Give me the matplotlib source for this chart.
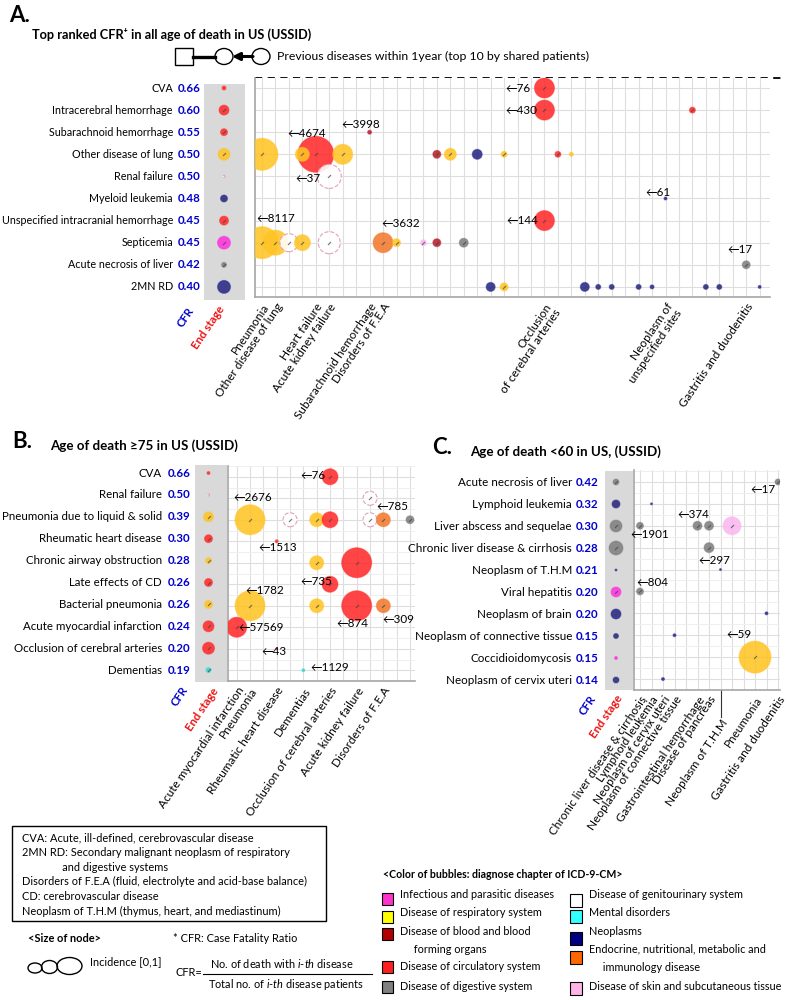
import matplotlib
matplotlib.use('Agg')
import matplotlib.pyplot as plt
import matplotlib.transforms as mtransforms
from matplotlib.colors import to_rgba
from matplotlib.patches import Rectangle, Ellipse
import numpy as np

plt.rcParams['font.family'] = ['Lato', 'DejaVu Sans']
plt.rcParams['mathtext.fontset'] = 'custom'
plt.rcParams['mathtext.rm'] = 'Lato'
plt.rcParams['mathtext.it'] = 'Lato:italic'
plt.rcParams['mathtext.bf'] = 'Lato:bold'

W, H = 789, 1000

# ---------------- panel A: all ages ----------------
rows_a = ["CVA", "Intracerebral hemorrhage", "Subarachnoid hemorrhage", "Other disease of lung",
          "Renal failure", "Myeloid leukemia", "Unspecified intracranial hemorrhage", "Septicemia",
          "Acute necrosis of liver", "2MN RD"]
cfr_a = [0.66, 0.60, 0.55, 0.50, 0.50, 0.48, 0.45, 0.45, 0.42, 0.40]
end_chap_a = ['circ', 'circ', 'circ', 'resp', 'gen', 'neo', 'circ', 'inf', 'dig', 'neo']
end_size_a = [2, 5, 3.5, 6, 1, 3.5, 4.5, 6.5, 2.5, 6.5]
xlab_a = {0: "Pneumonia", 1: "Other disease of lung", 4: "Heart failure", 5: "Acute kidney failure",
          8: "Subarachnoid hemorrhage", 9: "Disorders of F.E.A", 21: "Occlusion\nof cerebral arteries",
          30: "Neoplasm of\nunspecified sites", 36: "Gastritis and duodenitis"}
ncol_a = 38
bub_row_a = [0, 1, 1, 2, 3, 3, 3, 3, 3, 3, 3, 3, 3, 3, 4, 5, 6,
             7, 7, 7, 7, 7, 7, 7, 7, 7, 7, 8, 9, 9, 9, 9, 9, 9, 9, 9, 9, 9]
bub_col_a = [21, 21, 32, 8, 0, 4, 3, 6, 13, 14, 16, 18, 22, 23, 5, 30, 21,
             0, 1, 2, 3, 5, 9, 10, 12, 13, 15, 36, 17, 18, 24, 25, 26, 28, 29, 33, 34, 37]
bub_size_a = [10, 10, 3, 2, 16, 18, 7, 10, 4, 6, 5, 3, 3, 2, 12, 1.5, 10,
              16, 12.5, 9, 8, 11, 10, 4, 3, 4, 4.5, 4, 4.5, 4, 4.5, 2.5, 2.5, 2.5, 2, 2.5, 2.5, 1.5]
bub_chap_a = ['circ', 'circ', 'circ', 'blood', 'resp', 'circ', 'resp', 'resp', 'blood', 'resp', 'neo',
              'resp', 'circ', 'resp', 'gen', 'neo', 'circ',
              'resp', 'resp', 'gen', 'resp', 'gen', 'endo', 'resp', 'skin', 'blood', 'dig', 'dig',
              'neo', 'resp', 'neo', 'neo', 'neo', 'neo', 'neo', 'neo', 'neo', 'neo']
note_txt_a = ["←76", "←430", "←3998", "←4674", "←37", "←61", "←8117", "←3632", "←144", "←17"]
note_col_a = [18.1, 18.1, 5.9, 1.85, 2.5, 28.5, -0.4, 8.9, 18.2, 34.6]
note_row_a = [0, 1, 1.63, 2.08, 4.1, 4.75, 5.9, 6.15, 6.0, 7.33]

# ---------------- panel B: age >= 75 ----------------
rows_b = ["CVA", "Renal failure", "Pneumonia due to liquid & solid", "Rheumatic heart disease",
          "Chronic airway obstruction", "Late effects of CD", "Bacterial pneumonia",
          "Acute myocardial infarction", "Occlusion of cerebral arteries", "Dementias"]
cfr_b = [0.66, 0.50, 0.39, 0.30, 0.28, 0.26, 0.26, 0.24, 0.20, 0.19]
end_chap_b = ['circ', 'gen', 'resp', 'circ', 'resp', 'circ', 'resp', 'circ', 'circ', 'mental']
end_size_b = [1.5, 1, 5, 4, 3, 4, 4, 5.5, 6, 2.5]
xlab_b = {0: "Acute myocardial infarction", 1: "Pneumonia", 3: "Rheumatic heart disease",
          5: "Dementias", 7: "Occlusion of cerebral arteries", 9: "Acute kidney failure",
          11: "Disorders of F.E.A"}
ncol_b = 14
bub_row_b = [0, 1, 2, 2, 2, 2, 2, 2, 2, 3, 4, 4, 5, 6, 6, 6, 6, 7, 8, 9]
bub_col_b = [7, 10, 1, 4, 6, 7, 10, 11, 13, 3, 6, 9, 7, 1, 6, 9, 11, 0, 3, 5]
bub_size_b = [8, 7, 15, 7, 7, 8, 7, 7, 4, 1.5, 7, 15, 8, 15, 7, 15, 7, 10, 1, 1.5]
bub_chap_b = ['circ', 'gen', 'resp', 'gen', 'resp', 'circ', 'gen', 'endo', 'dig', 'circ',
              'resp', 'circ', 'circ', 'resp', 'resp', 'circ', 'endo', 'circ', 'circ', 'mental']
note_txt_b = ["←76", "←2676", "←785", "←1513", "←735", "←1782", "←57569", "←874", "←309", "←43", "←1129"]
note_col_b = [4.75, -0.25, 10.5, 1.62, 4.75, 0.62, 0.12, 7.5, 10.95, 1.88, 5.5]
note_row_b = [-0.06, 0.96, 1.38, 3.29, 4.85, 5.27, 6.99, 6.84, 6.64, 8.13, 8.89]

# ---------------- panel C: age < 60 ----------------
rows_c = ["Acute necrosis of liver", "Lymphoid leukemia", "Liver abscess and sequelae",
          "Chronic liver disease & cirrhosis", "Neoplasm of T.H.M", "Viral hepatitis",
          "Neoplasm of brain", "Neoplasm of connective tissue", "Coccidioidomycosis",
          "Neoplasm of cervix uteri"]
cfr_c = [0.42, 0.32, 0.30, 0.28, 0.21, 0.20, 0.20, 0.15, 0.15, 0.14]
end_chap_c = ['dig', 'neo', 'dig', 'dig', 'neo', 'inf', 'neo', 'neo', 'inf', 'neo']
end_size_c = [3, 4, 6, 7, 1, 5, 5, 2.5, 1.5, 3]
xlab_c = {0: "Chronic liver disease & cirrhosis", 1: "Lymphoid leukemia", 2: "Neoplasm of cervix uteri",
          3: "Neoplasm of connective tissue", 5: "Gastrointestinal hemorrhage", 6: "Disease of pancreas",
          10: "Pneumonia", 12: "Gastritis and duodenitis"}
xlab_c_long = {7: "Neoplasm of T.H.M"}
ncol_c = 13
bub_row_c = [0, 1, 2, 2, 2, 2, 3, 4, 5, 6, 7, 8, 9]
bub_col_c = [12, 1, 0, 5, 6, 8, 6, 7, 0, 11, 3, 10, 2]
bub_size_c = [3, 1, 3.5, 4.5, 4.5, 9, 5, 1, 3.5, 1.5, 1.5, 16, 1.5]
bub_chap_c = ['dig', 'neo', 'dig', 'dig', 'dig', 'skin', 'dig', 'neo', 'dig', 'neo', 'neo', 'resp', 'neo']
note_txt_c = ["←17", "←374", "←1901", "←297", "←804", "←59"]
note_col_c = [9.57, 3.24, -0.81, 5.07, -0.35, 7.54]
note_row_c = [0.33, 1.5, 2.41, 3.58, 4.6, 6.95]

# ---------------- legend ----------------
chap_left = ['inf', 'resp', 'blood', 'circ', 'dig']
chap_left_lab = ["Infectious and parasitic diseases", "Disease of respiratory system",
                 "Disease of blood and blood\n     forming organs", "Disease of circulatory system",
                 "Disease of digestive system"]
chap_right = ['gen', 'mental', 'neo', 'endo', 'skin']
chap_right_lab = ["Disease of genitourinary system", "Mental disorders", "Neoplasms",
                  "Endocrine, nutritional, metabolic and\n     immunology disease",
                  "Disease of skin and subcutaneous tissue"]
abbrev = ["CVA: Acute, ill-defined, cerebrovascular disease",
          "2MN RD: Secondary malignant neoplasm of respiratory",
          "              and digestive systems",
          "Disorders of F.E.A (fluid, electrolyte and acid-base balance)",
          "CD: cerebrovascular disease",
          "Neoplasm of T.H.M (thymus, heart, and mediastinum)"]

bubble_col = {'inf': '#ff33dd', 'resp': '#ffc425', 'blood': '#b8202c', 'circ': '#ff2b2b',
              'dig': '#7f7f7f', 'gen': '#ffffff', 'mental': '#36d6d6', 'neo': '#28288a',
              'endo': '#f27a2e', 'skin': '#f9b8ef'}
legend_col = {'inf': '#ff33cc', 'resp': '#ffff00', 'blood': '#b00000', 'circ': '#ff2020',
              'dig': '#808080', 'gen': '#ffffff', 'mental': '#33ffff', 'neo': '#000080',
              'endo': '#ff6600', 'skin': '#ffb3e6'}

fig = plt.figure(figsize=(W / 100, H / 100), dpi=100)
ov = fig.add_axes([0, 0, 1, 1])
ov.set_xlim(0, W)
ov.set_ylim(H, 0)
ov.axis('off')
renderer = fig.canvas.get_renderer()


def px_axes(x0, y0, x1, y1):
    return fig.add_axes([x0 / W, 1 - y1 / H, (x1 - x0) / W, (y1 - y0) / H])


def area(r):
    return (2 * np.asarray(r, float) * 0.72) ** 2


def faces(chaps):
    return [to_rgba(bubble_col[c], 0.88) for c in chaps]


def edges(chaps):
    return [to_rgba('#e2a0bd', 1) if c == 'gen' else to_rgba(bubble_col[c], 0.45) for c in chaps]


def draw_bubbles(ax, x, y, size, chaps):
    size = np.asarray(size, float)
    ls = ['--' if c == 'gen' else '-' for c in chaps]
    ax.scatter(x, y, s=area(size), c=faces(chaps), edgecolors=edges(chaps),
               linewidths=0.8, linestyles=ls, zorder=3)
    big = size >= 2.5
    ax.scatter(np.asarray(x)[big], np.asarray(y)[big], s=7, marker=(2, 2, -45),
               c='#444444', linewidths=0.6, alpha=0.7, zorder=4)


def draw_panel(rows, cfr, end_chap, end_size, xlab, ncol, b_row, b_col, b_size, b_chap,
               n_txt, n_col, n_row, L):
    r0, rsp = L['row0'], L['row_sp']
    c0, csp = L['col0'], L['col_sp']
    n = len(rows)
    # end stage strip
    sx0, sx1 = L['strip_x']
    sy0, sy1 = L['strip_y']
    st = px_axes(sx0, sy0, sx1, sy1)
    st.set_facecolor('#d9d9d9')
    st.set_xlim(sx0 - L['strip_cx'], sx1 - L['strip_cx'])
    st.set_ylim((sy1 - r0) / rsp, (sy0 - r0) / rsp)
    st.set_xticks([])
    st.set_yticks([])
    for s in st.spines.values():
        s.set_visible(False)
    draw_bubbles(st, np.zeros(n), np.arange(n), end_size, end_chap)

    tr = mtransforms.blended_transform_factory(ov.transData, st.transData)
    labs = []
    for i, (lab, v) in enumerate(zip(rows, cfr)):
        labs.append(st.text(L['label_x'], i, lab, transform=tr, ha='right', va='center',
                            fontsize=L['lab_fs']))
        st.text(L['cfr_x'], i, f'{v:.2f}', transform=tr, ha='left', va='center',
                fontsize=8.3, fontweight='bold', color='#0000cc')
    # shrink labels if the longest one would leave the figure
    left = min(t.get_window_extent(renderer).x0 for t in labs)
    if left < 1:
        widest = max(t.get_window_extent(renderer).width for t in labs)
        fs = L['lab_fs'] * (L['label_x'] - 1) / widest
        for t in labs:
            t.set_fontsize(fs)

    # main bubble grid
    px0, px1 = L['plot_x']
    py0, py1 = L['plot_y']
    ax = px_axes(px0, py0, px1, py1)
    ax.set_xlim((px0 - c0) / csp, (px1 - c0) / csp)
    ax.set_ylim((py1 - r0) / rsp, (py0 - r0) / rsp)
    ax.set_xticks(range(ncol), minor=True)
    ax.set_xticks(list(xlab.keys()))
    ax.set_xticklabels(list(xlab.values()), rotation=56, ha='right', va='top',
                       rotation_mode='anchor', fontsize=8.5, linespacing=1.0)
    ax.set_yticks(range(n))
    ax.set_yticklabels([])
    if L['half_rows']:
        ax.set_yticks(np.arange(-0.5, n, 1), minor=True)
        ax.grid(True, axis='y', which='minor', color='#efefef', lw=0.7)
    ax.tick_params(which='both', length=0, pad=3)
    ax.grid(True, axis='x', which='both', color='#dedede', lw=0.8)
    ax.grid(True, axis='y', which='major', color='#dedede', lw=0.8)
    ax.set_axisbelow(True)
    for k in ('top', 'right'):
        ax.spines[k].set_visible(False)
    for k in ('left', 'bottom'):
        ax.spines[k].set_color('#a6a6a6')
        ax.spines[k].set_linewidth(1.2)
    draw_bubbles(ax, b_col, b_row, b_size, b_chap)
    for t, c, r in zip(n_txt, n_col, n_row):
        ax.text(c, r, t, ha='left', va='center', fontsize=8.4, zorder=5)

    ov.text(*L['cfr_lbl'], "CFR", rotation=56, ha='right', va='top', rotation_mode='anchor',
            fontsize=8.2, fontweight='bold', color='#0000cc')
    ov.text(*L['end_lbl'], "End stage", rotation=56, ha='right', va='top', rotation_mode='anchor',
            fontsize=8.2, fontweight='bold', color='#ee1111')
    return ax


lay_a = dict(row0=88, row_sp=22.1, col0=262, col_sp=13.45, strip_x=(204, 245), strip_cx=224,
             strip_y=(84, 300), plot_x=(255, 770), plot_y=(78, 297), label_x=173, cfr_x=178,
             cfr_lbl=(187, 305), end_lbl=(217, 304), half_rows=False, lab_fs=8.6)
lay_b = dict(row0=473, row_sp=21.9, col0=236.7, col_sp=13.33, strip_x=(195, 227), strip_cx=208.5,
             strip_y=(465, 682), plot_x=(228, 415), plot_y=(466, 681), label_x=162, cfr_x=168,
             cfr_lbl=(181, 684), end_lbl=(211, 686), half_rows=True, lab_fs=9.0)
lay_c = dict(row0=482, row_sp=22, col0=640, col_sp=11.5, strip_x=(605, 633), strip_cx=616,
             strip_y=(471, 690), plot_x=(634, 780), plot_y=(470, 690), label_x=572, cfr_x=576,
             cfr_lbl=(589, 693), end_lbl=(615, 693), half_rows=True, lab_fs=8.4)

ax_a = draw_panel(rows_a, cfr_a, end_chap_a, end_size_a, xlab_a, ncol_a, bub_row_a, bub_col_a,
                  bub_size_a, bub_chap_a, note_txt_a, note_col_a, note_row_a, lay_a)
ax_b = draw_panel(rows_b, cfr_b, end_chap_b, end_size_b, xlab_b, ncol_b, bub_row_b, bub_col_b,
                  bub_size_b, bub_chap_b, note_txt_b, note_col_b, note_row_b, lay_b)
ax_c = draw_panel(rows_c, cfr_c, end_chap_c, end_size_c, xlab_c, ncol_c, bub_row_c, bub_col_c,
                  bub_size_c, bub_chap_c, note_txt_c, note_col_c, note_row_c, lay_c)

# long-leader tick label in panel C
ybot = ax_c.get_ylim()[0]
for c, lab in xlab_c_long.items():
    ax_c.plot([c, c], [ybot, ybot + 27 / lay_c['row_sp']], color='#333333', lw=0.8, clip_on=False)
    ax_c.text(c, ybot + 28 / lay_c['row_sp'], lab, rotation=56, ha='right', va='top',
              rotation_mode='anchor', fontsize=8.5)

# dashed top border of panel A
ov.plot([255, 781], [78, 78], color='black', lw=1.3, ls=(0, (4, 3)))

# titles
ov.text(9, 15, "A.", fontsize=16, fontweight='bold', va='center')
ov.text(32, 34, "Top ranked CFR⁺ in all age of death in US (USSID)", fontsize=9.2,
        fontweight='bold', va='center')
ov.text(12, 442, "B.", fontsize=16, fontweight='bold', va='center')
ov.text(50, 446, "Age of death ≥75 in US (USSID)", fontsize=9.6, fontweight='bold', va='center')
ov.text(432, 447, "C.", fontsize=16, fontweight='bold', va='center')
ov.text(470, 452, "Age of death <60 in US, (USSID)", fontsize=9.6, fontweight='bold', va='center')

# "previous diseases" glyph
ov.add_patch(Rectangle((175, 48), 18, 17, fill=False, ec='black', lw=1))
ov.plot([193, 215], [56.5, 56.5], color='black', lw=2.4)
ov.add_patch(Ellipse((224, 56.5), 18, 16, fill=False, ec='black', lw=1))
ov.annotate('', xy=(232, 56.5), xytext=(253, 56.5),
            arrowprops=dict(arrowstyle='-|>', lw=2.2, color='black', mutation_scale=11,
                            shrinkA=0, shrinkB=0))
ov.add_patch(Ellipse((261, 56.5), 18, 16, fill=False, ec='black', lw=1))
ov.text(277, 56.5, "Previous diseases within 1year (top 10 by shared patients)", fontsize=8.8,
        va='center')

# abbreviation box
ov.add_patch(Rectangle((12, 826), 314, 95, fill=False, ec='black', lw=1))
for i, line in enumerate(abbrev):
    ov.text(22, 838 + 14.6 * i, line, fontsize=7.9, va='center')

# size of node
ov.text(28, 939, "<Size of node>", fontsize=7.9, fontweight='bold', va='center')
ov.add_patch(Ellipse((35, 968), 14, 10, fill=False, ec='black', lw=1))
ov.add_patch(Ellipse((49.5, 967), 16, 13, fill=False, ec='black', lw=1))
ov.add_patch(Ellipse((69.5, 966), 25, 17, fill=False, ec='black', lw=1))
ov.text(90, 962, "Incidence [0,1]", fontsize=7.9, va='center')

# CFR definition
ov.text(173, 939, "* CFR: Case Fatality Ratio", fontsize=7.9, va='center')
ov.text(176, 972, "CFR=", fontsize=7.9, va='center')
ov.text(282, 963, "No. of death with $i$-$th$ disease", fontsize=7.9, va='center', ha='center')
ov.plot([203, 372], [974, 974], color='black', lw=0.8)
ov.text(286, 984, "Total no. of $i$-$th$ disease patients", fontsize=7.9, va='center', ha='center')

# colour legend
ov.text(383, 875, "<Color of bubbles: diagnose chapter of ICD-9-CM>", fontsize=7.6,
        fontweight='bold', va='center')
ys_text = [894, 912.7, 931.7, 966.7, 986]
ys_box = [899, 917, 933.5, 967, 987]
for c, lab, yt, yb in zip(chap_left, chap_left_lab, ys_text, ys_box):
    ov.add_patch(Rectangle((382, yb - 6), 11, 12, fc=legend_col[c], ec='black', lw=0.8))
    for j, ln in enumerate(lab.split('\n')):
        ov.text(400, yt + 17.5 * j, ln, fontsize=7.8, va='center')
ys_text = [894, 912.7, 931.7, 949.3, 986]
ys_box = [900.5, 916.7, 938, 957.5, 988]
for c, lab, yt, yb in zip(chap_right, chap_right_lab, ys_text, ys_box):
    ov.add_patch(Rectangle((570, yb - 6.5), 12, 13, fc=legend_col[c], ec='black', lw=0.8))
    for j, ln in enumerate(lab.split('\n')):
        ov.text(589, yt + 18.4 * j, ln, fontsize=7.8, va='center')

fig.savefig('out.png', dpi=100)
